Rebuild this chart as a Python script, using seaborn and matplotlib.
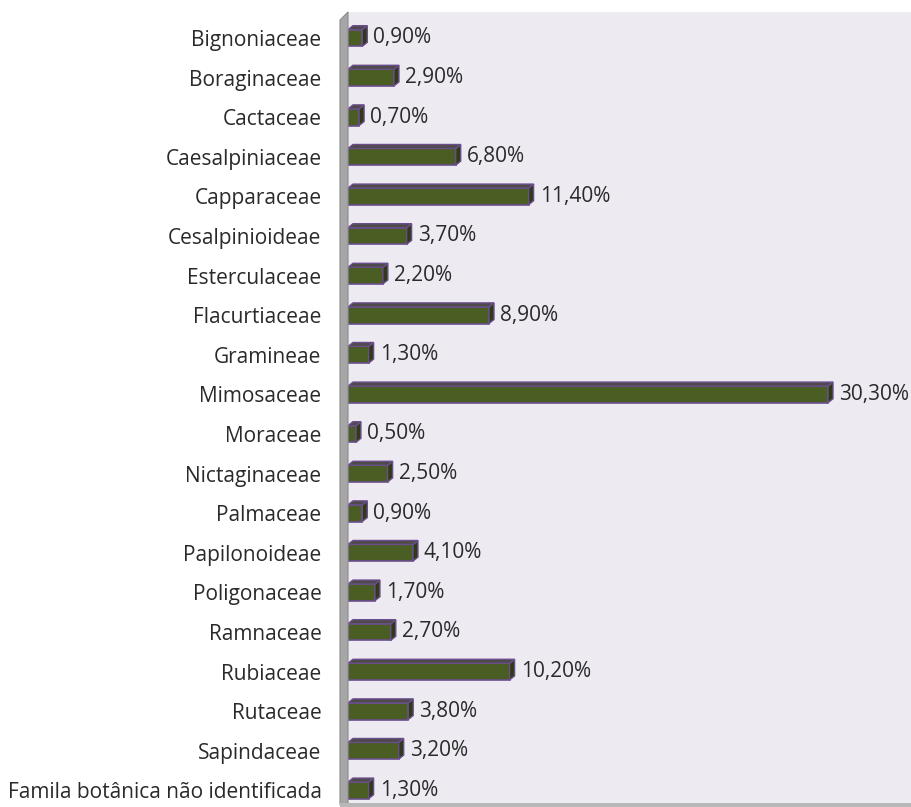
import matplotlib
matplotlib.use("Agg")
import matplotlib.pyplot as plt
import seaborn as sns
import pandas as pd
from matplotlib.patches import Polygon, Rectangle

families = ["Bignoniaceae", "Boraginaceae", "Cactaceae", "Caesalpiniaceae", "Capparaceae",
            "Cesalpinioideae", "Esterculaceae", "Flacurtiaceae", "Gramineae", "Mimosaceae",
            "Moraceae", "Nictaginaceae", "Palmaceae", "Papilonoideae", "Poligonaceae",
            "Ramnaceae", "Rubiaceae", "Rutaceae", "Sapindaceae", "Famila botânica não identificada"]
percent = [0.9, 2.9, 0.7, 6.8, 11.4, 3.7, 2.2, 8.9, 1.3, 30.3,
           0.5, 2.5, 0.9, 4.1, 1.7, 2.7, 10.2, 3.8, 3.2, 1.3]

df = pd.DataFrame({"family": families, "percent": percent})

sns.set_theme(style="white")
plt.rcParams['font.family'] = ['Open Sans', 'DejaVu Sans']

W, H = 911, 807
fig = plt.figure(figsize=(W / 100, H / 100), dpi=100)
ax_l, ax_r, ax_t, ax_b = 348, 911, 12, 803
ax = fig.add_axes([ax_l / W, 1 - ax_b / H, (ax_r - ax_l) / W, (ax_b - ax_t) / H])
ax.set_facecolor("#EDEAF2")

sns.barplot(data=df, x="percent", y="family", ax=ax, color="#4A5D23",
            saturation=1, width=0.42, edgecolor="#6A4E8C", linewidth=1.2, zorder=3)

px_per_pct = 480 / 30.3
ax.set_xlim(0, (ax_r - ax_l) / px_per_pct)
row_px = 39.6
span = (ax_b - ax_t) / row_px
top = -0.5 - (38 - 19.8 - ax_t) / row_px
ax.set_ylim(top + span, top)

# 3D depth faces derived from bar patches
dx_data = 5 / px_per_pct
dy_data = 4 / row_px
for p in list(ax.patches):
    x0, y0 = p.get_x(), p.get_y()
    w, h = p.get_width(), p.get_height()
    x1, ytop, ybot = x0 + w, y0, y0 + h
    side = Polygon([(x1, ytop), (x1 + dx_data, ytop - dy_data), (x1 + dx_data, ybot - dy_data), (x1, ybot)],
                   closed=True, facecolor="#2F3B14", edgecolor="#6A4E8C", linewidth=1.0, zorder=4)
    topf = Polygon([(x0, ytop), (x0 + dx_data, ytop - dy_data), (x1 + dx_data, ytop - dy_data), (x1, ytop)],
                   closed=True, facecolor="#4F4A4A", edgecolor="#6A4E8C", linewidth=1.0, zorder=4)
    ax.add_patch(side)
    ax.add_patch(topf)

for i, v in enumerate(percent):
    ax.text(v + 11 / px_per_pct, i, f"{v:.2f}".replace(".", ",") + "%",
            va="center", ha="left", fontsize=15, color="#2a2a2a", zorder=5)

ax.set_xlabel("")
ax.set_ylabel("")
ax.set_xticks([])
ax.tick_params(axis="y", length=0, pad=19, labelsize=15, labelcolor="#2a2a2a")
for s in ax.spines.values():
    s.set_visible(False)

# left wall and floor
wall = Polygon([(340 / W, 1 - 805 / H), (340 / W, 1 - 20 / H), (348 / W, 1 - 12 / H), (348 / W, 1 - 803 / H)],
               closed=True, transform=fig.transFigure, facecolor="#A6A6A6", edgecolor="#8C8C8C",
               linewidth=0.8, zorder=1)
fig.patches.append(wall)
floor = Rectangle((340 / W, 1 - 807 / H), (911 - 340) / W, 4 / H, transform=fig.transFigure,
                  facecolor="#B8B8B8", edgecolor="none", zorder=1)
fig.patches.append(floor)

fig.savefig("out.png", dpi=100)
